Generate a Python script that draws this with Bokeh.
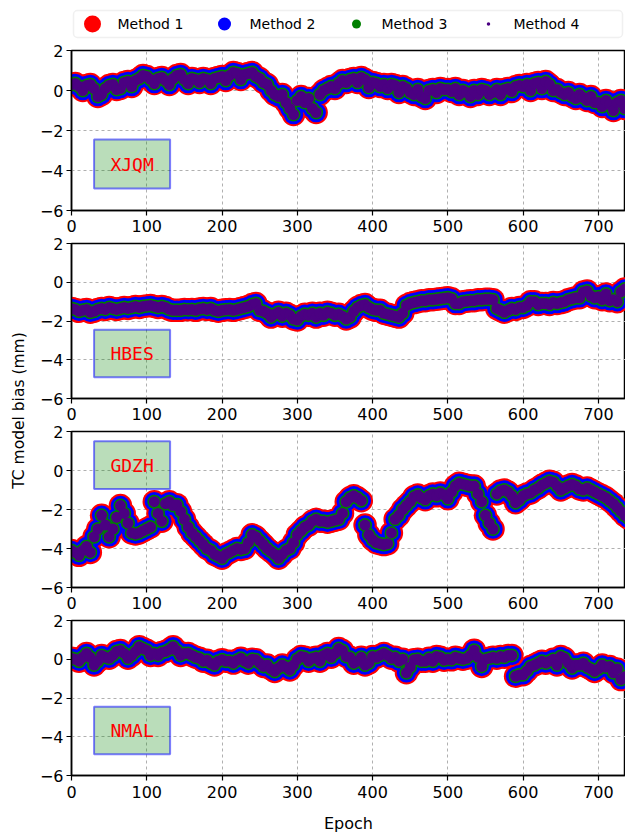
import math
from bokeh.plotting import figure
from bokeh.layouts import column, row
from bokeh.models import (Range1d, FixedTicker, BoxAnnotation, Label,
                          CustomJSTickFormatter, ColumnDataSource)
from bokeh.core.properties import value
from bokeh.embed import file_html
from bokeh.resources import INLINE

# ---------------- data ----------------
EPOCHS = list(range(0, 741, 5))

XJQM = [0.3, 0.35, 0.2, 0.0, 0.25, 0.3, 0.1, -0.3, -0.2, 0.1,
        0.25, 0.3, 0.05, 0.1, 0.4, 0.45, 0.2, 0.5, 0.6, 0.75,
        0.7, 0.55, 0.35, 0.6, 0.65, 0.5, 0.3, 0.6, 0.75, 0.8,
        0.55, 0.35, 0.6, 0.55, 0.4, 0.6, 0.55, 0.35, 0.6, 0.65,
        0.7, 0.5, 0.75, 0.9, 0.85, 0.55, 0.8, 0.85, 0.9, 0.7,
        0.6, 0.4, 0.3, 0.0, -0.2, -0.3, -0.2, -0.6, -0.9, -1.2,
        -0.5, -0.3, -0.6, -0.4, -0.9, -1.1, -0.2, 0.0, 0.1, 0.2,
        0.1, 0.35, 0.5, 0.4, 0.55, 0.6, 0.4, 0.65, 0.55, 0.15,
        0.4, 0.35, 0.2, 0.3, 0.1, 0.3, 0.25, -0.1, 0.2, 0.1,
        -0.1, -0.2, 0.05, -0.3, -0.4, 0.0, 0.05, -0.1, 0.1, 0.05,
        0.05, -0.05, 0.1, -0.2, 0.0, -0.1, -0.3, 0.0, -0.2, 0.05,
        0.0, -0.2, -0.1, 0.05, -0.2, 0.05, 0.1, -0.05, 0.2, 0.25,
        0.2, 0.3, 0.0, 0.35, 0.4, 0.1, 0.45, 0.3, 0.0, 0.05,
        -0.1, -0.2, -0.1, -0.3, -0.4, -0.2, -0.35, -0.5, -0.3, -0.6,
        -0.6, -0.8, -0.5, -0.7, -1.0, -0.6, -0.5, -0.9, -0.7]

HBES = [-1.35, -1.4, -1.5, -1.45, -1.4, -1.55, -1.5, -1.4, -1.35, -1.4,
        -1.3, -1.35, -1.4, -1.35, -1.3, -1.35, -1.3, -1.25, -1.3, -1.25,
        -1.22, -1.2, -1.25, -1.3, -1.25, -1.3, -1.4, -1.45, -1.45, -1.45,
        -1.4, -1.42, -1.4, -1.45, -1.38, -1.35, -1.4, -1.35, -1.45, -1.5,
        -1.45, -1.42, -1.4, -1.45, -1.4, -1.35, -1.3, -1.25, -1.15, -1.1,
        -1.45, -1.5, -1.6, -1.8, -1.65, -1.55, -1.75, -1.6, -1.7, -1.9,
        -1.95, -1.75, -1.65, -1.7, -1.6, -1.8, -1.6, -1.7, -1.55, -1.6,
        -1.7, -1.65, -1.75, -1.9, -1.8, -1.5, -1.3, -1.2, -1.15, -1.3,
        -1.4, -1.45, -1.45, -1.6, -1.65, -1.7, -1.75, -1.8, -1.6, -1.2,
        -1.1, -1.05, -1.0, -0.95, -0.95, -0.9, -0.9, -0.88, -0.85, -0.82,
        -0.8, -0.85, -1.1, -1.1, -1.0, -0.98, -0.95, -0.95, -0.9, -0.9,
        -0.88, -0.88, -0.9, -1.35, -1.45, -1.55, -1.45, -1.35, -1.4, -1.3,
        -1.3, -1.2, -1.0, -1.0, -1.15, -1.1, -1.1, -1.15, -1.05, -1.1,
        -1.05, -1.0, -0.9, -0.85, -0.8, -0.8, -0.5, -0.45, -0.7, -0.8,
        -0.75, -0.9, -0.6, -0.95, -0.9, -1.0, -0.5, -0.35, -0.4]

GDZH = [-4.1, -4.2, -4.35, -4.1, -3.9, -4.2, -3.4, -3.0, -2.3, -2.8,
        -3.4, -3.0, -2.4, -1.8, -2.2, -2.7, -3.2, -3.25, -3.2, -3.1,
        -3.0, -2.9, -1.6, -2.2, -2.6, -1.7, -1.6, -1.8, -1.75, -2.1,
        -2.5, -2.9, -3.2, -3.4, -3.6, -3.8, -4.0, -4.1, -4.3, -4.4,
        -4.5, -4.3, -4.2, -4.1, -4.0, -4.05, -4.0, -3.7, -3.3, -3.4,
        -3.6, -3.8, -4.0, -4.15, -4.3, -4.5, -4.3, -4.1, -4.0, -3.7,
        -3.3, -3.1, -2.9, -2.8, -2.6, -2.5, -2.6, -2.6, -2.65, -2.6,
        -2.55, -2.5, -2.2, -1.6, -1.4, -1.3, -1.4, -1.55, -2.8, -3.3,
        -3.55, -3.7, -3.75, -3.8, -3.75, -3.2, -2.5, -2.3, -2.0, -1.8,
        -1.6, -1.35, -1.25, -1.4, -1.5, -1.3, -1.2, -1.3, -1.15, -1.25,
        -1.45, -1.1, -0.8, -0.65, -0.7, -0.75, -0.8, -0.8, -1.2, -1.6,
        -2.3, -2.7, -3.0, -1.2, -1.05, -1.0, -1.1, -1.3, -1.65, -1.5,
        -1.3, -1.2, -1.15, -1.0, -0.9, -0.75, -0.65, -0.55, -0.6, -0.8,
        -1.0, -0.9, -0.8, -0.72, -0.8, -0.95, -1.0, -0.9, -1.0, -1.1,
        -1.2, -1.3, -1.4, -1.55, -1.7, -1.9, -2.1, -2.3, -2.45]

NMAL = [0.05, 0.0, -0.1, 0.1, 0.3, 0.1, -0.3, -0.1, 0.2, 0.1,
        0.05, 0.2, 0.4, 0.45, 0.3, 0.05, 0.2, 0.4, 0.65, 0.55,
        0.47, 0.2, 0.3, 0.2, 0.35, 0.4, 0.5, 0.65, 0.45, 0.2,
        0.3, 0.3, 0.2, 0.1, 0.05, -0.1, -0.05, -0.2, -0.3, -0.1,
        -0.03, -0.1, -0.1, -0.2, -0.05, 0.05, -0.1, -0.2, 0.0, -0.03,
        -0.2, -0.37, -0.3, -0.5, -0.63, -0.45, -0.3, -0.4, -0.55, -0.3,
        0.0, 0.14, 0.1, -0.1, 0.05, 0.1, -0.1, 0.2, 0.3, 0.1,
        0.3, 0.55, 0.45, 0.14, 0.1, -0.2, -0.1, 0.1, -0.3, -0.2,
        0.14, 0.1, 0.2, 0.3, 0.2, 0.05, 0.1, -0.1, 0.0, -0.7,
        -0.4, -0.03, 0.0, -0.1, -0.1, 0.05, -0.1, 0.14, 0.1, -0.05,
        0.0, -0.03, 0.1, 0.05, 0.0, 0.05, 0.2, 0.47, 0.1, -0.37,
        0.0, 0.05, 0.1, 0.05, 0.14, 0.1, 0.2, 0.2, -0.88, -0.8,
        -0.8, -0.6, -0.37, -0.3, -0.2, -0.1, -0.2, -0.1, 0.0, -0.3,
        0.14, 0.05, -0.2, -0.45, -0.3, -0.3, -0.2, -0.4, -0.5, -0.63,
        -0.5, -0.3, -0.4, -0.37, -0.7, -0.5, -1.05, -0.9, -0.9]

STATIONS = ["XJQM", "HBES", "GDZH", "NMAL"]
STATION_VALUES = [XJQM, HBES, GDZH, NMAL]
METHODS = ["Method 1", "Method 2", "Method 3", "Method 4"]
METHOD_COLORS = ["#ff0000", "#0000ff", "#008000", "#4b0082"]
X_TICKS = [0, 100, 200, 300, 400, 500, 600, 700]
Y_TICKS = [-6, -4, -2, 0, 2]

# ---------------- styles ----------------
FONT = "DejaVu Sans"
MONO = "DejaVu Sans Mono"
MARKER_SIZES = [23.5, 19.5, 14, 11]
LEGEND_SIZES = [17, 13, 9, 3.5]
# station box (left, right, bottom, top) per panel
BOXES = [(30, 131, -4.9, -2.45), (30, 131, -4.9, -2.45),
         (30, 131, -0.95, 1.5), (30, 131, -4.9, -2.45)]
FRAME_H = [160, 155, 156, 155]
BORDER_T = [10, 9, 9, 9]
BORDER_B = [0, 0, 0, 59]
X_STANDOFF = [4, 4, 4, 5]

minus_fmt = CustomJSTickFormatter(code="return tick < 0 ? '\\u2212' + (-tick) : '' + tick;")

panels = []
for i, (name, vals) in enumerate(zip(STATIONS, STATION_VALUES)):
    xs = EPOCHS[:len(vals)]
    src = ColumnDataSource(data=dict(x=xs, y=vals))
    p = figure(frame_width=554, frame_height=FRAME_H[i],
               min_border_left=36, min_border_right=0,
               min_border_top=BORDER_T[i], min_border_bottom=BORDER_B[i],
               x_range=Range1d(0, 736), y_range=Range1d(-6, 2),
               output_backend="svg", toolbar_location=None)
    for m, col, sz in zip(METHODS, METHOD_COLORS, MARKER_SIZES):
        p.scatter("x", "y", source=src, size=sz, fill_color=col,
                  line_color=None, marker="circle")
    bl, br, bb, bt = BOXES[i]
    p.add_layout(BoxAnnotation(left=bl, right=br, bottom=bb, top=bt,
                               fill_color="green", fill_alpha=0.27,
                               line_color="blue", line_alpha=0.5, line_width=2))
    p.add_layout(Label(x=(bl + br) / 2, y=(bb + bt) / 2, text=name,
                       text_font=MONO, text_font_size="18px", text_color="red",
                       text_align="center", text_baseline="middle"))
    p.xaxis.ticker = FixedTicker(ticks=X_TICKS)
    p.yaxis.ticker = FixedTicker(ticks=Y_TICKS)
    p.yaxis.formatter = minus_fmt
    for ax in (p.xaxis, p.yaxis):
        ax.major_label_text_font = FONT
        ax.major_label_text_font_size = "16px"
        ax.major_label_text_color = "black"
        ax.axis_line_color = "black"
        ax.axis_line_width = 1.5
        ax.major_tick_line_color = "black"
        ax.major_tick_line_width = 1.2
        ax.major_tick_out = 5
        ax.major_tick_in = 0
        ax.minor_tick_line_color = None
    p.yaxis.major_label_standoff = 3
    p.xaxis.major_label_standoff = X_STANDOFF[i]
    p.grid.grid_line_color = "#b0b0b0"
    p.grid.grid_line_dash = "3 3"
    p.grid.grid_line_width = 1
    p.outline_line_color = "black"
    p.outline_line_width = 1.5
    p.outline_line_alpha = 1
    if i == 3:
        p.xaxis.axis_label = "Epoch"
        p.xaxis.axis_label_text_font = FONT
        p.xaxis.axis_label_text_font_size = "16px"
        p.xaxis.axis_label_text_font_style = "normal"
        p.xaxis.axis_label_text_color = "black"
        p.xaxis.axis_label_standoff = 13
    panels.append(p)

# ---------------- legend (custom, sized like the markers) ----------------
LW, LH = 554, 40
leg = figure(frame_width=LW, frame_height=LH, min_border=0, min_border_left=36,
             x_range=Range1d(0, LW), y_range=Range1d(0, LH),
             x_axis_location=None, y_axis_location=None,
             output_backend="svg", toolbar_location=None)
leg.grid.visible = False
leg.outline_line_color = None
leg.add_layout(BoxAnnotation(left=2, right=551, bottom=3, top=30,
                             fill_color="white", fill_alpha=1,
                             line_color="#cccccc", line_width=1.5,
                             border_radius=4, level="underlay"))
lx = [21 + 132 * k for k in range(len(METHODS))]
for k, (m, col, sz) in enumerate(zip(METHODS, METHOD_COLORS, LEGEND_SIZES)):
    leg.scatter([lx[k]], [16.5], size=sz, fill_color=col, line_color=None)
leg.text(x=[v + 25 for v in lx], y=[16.5] * len(METHODS), text=METHODS,
         text_font=value(FONT), text_font_size="14px", text_color="black",
         text_align="left", text_baseline="middle")

# ---------------- shared y label ----------------
YW, YH = 35, 836
ylab = figure(frame_width=YW, frame_height=YH, min_border=0,
              x_range=Range1d(0, YW), y_range=Range1d(0, YH),
              x_axis_location=None, y_axis_location=None,
              output_backend="svg", toolbar_location=None)
ylab.grid.visible = False
ylab.outline_line_color = None
ylab.add_layout(Label(x=18, y=YH - 410, x_units="screen", y_units="screen",
                      text="TC model bias (mm)", angle=math.pi / 2,
                      text_font=FONT, text_font_size="15.5px", text_color="black",
                      text_align="center", text_baseline="middle"))

layout = row(ylab, column(leg, *panels, spacing=0), spacing=0)
open("out.html", "w").write(file_html(layout, INLINE))
